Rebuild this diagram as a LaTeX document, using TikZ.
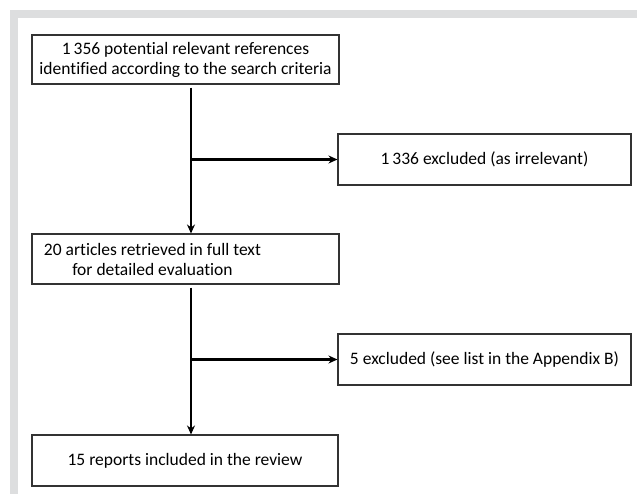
\documentclass[tikz,border=0pt]{standalone}
\usepackage{fontspec}
\setmainfont[Ligatures=NoCommon]{Carlito}
\usepackage{tikz}
\usetikzlibrary{arrows.meta}

\definecolor{frame}{HTML}{DDDEDF}
\definecolor{edge}{HTML}{333333}

\tikzset{
	box/.style={draw=edge, line width=1.1pt, inner sep=0pt, align=center,
		font=\fontsize{17.5}{20}\selectfont},
	flow/.style={line width=2.2pt, ->}
}

\begin{document}
\begin{tikzpicture}[x=1pt, y=-1pt, >={Stealth[length=9pt,width=8pt]}]
	% page and grey frame
	\useasboundingbox (0,0) rectangle (637,494);
	\fill[frame] (10,10) rectangle (637,494);
	\fill[white] (18,18) rectangle (637,494);
	% boxes
	\node[box, minimum width=307pt, minimum height=49pt] (ref) at (185.5,59.5) {1\,356 potential relevant references\\identified according to the search criteria};
	\node[box, minimum width=293pt, minimum height=51pt] (excl1) at (484.5,159.5) {1\,336 excluded (as irrelevant)};
	\node[box, minimum width=307pt, minimum height=50pt] (art) at (185.5,259) {};
	\node[anchor=west, align=center, font=\fontsize{17.5}{20}\selectfont] (artt) at ([xshift=9pt]art.west) {20 articles retrieved in full text\\for detailed evaluation};
	\node[box, minimum width=293pt, minimum height=51pt] (excl2) at (484.5,359.5) {5 excluded (see list in the Appendix B)};
	\node[box, minimum width=306pt, minimum height=51pt] (rep) at (185,460.5) {15 reports included in the review};
	% arrows
	\draw[flow] ([xshift=5.5pt,yshift=-3pt]ref.south) -- ([xshift=5.5pt]art.north);
	\draw[flow] ([xshift=5.5pt]ref.south |- excl1.west) -- (excl1.west);
	\draw[flow] ([xshift=5.5pt,yshift=-3pt]art.south) -- ([xshift=6pt]rep.north);
	\draw[flow] ([xshift=5.5pt]art.south |- excl2.west) -- (excl2.west);
\end{tikzpicture}
\end{document}
